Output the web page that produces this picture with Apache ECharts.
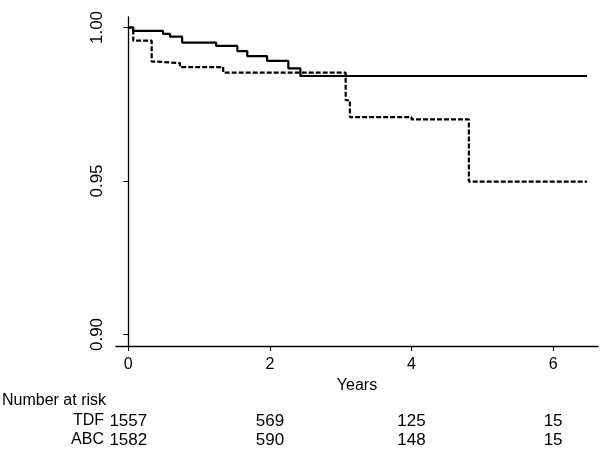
<!DOCTYPE html>
<html>
<head>
<meta charset="utf-8">
<script src="https://cdn.jsdelivr.net/npm/echarts@6/dist/echarts.min.js"></script>
<style>html,body{margin:0;padding:0;background:#fff;}#c{width:600px;height:468px;}</style>
</head>
<body>
<div id="c"></div>
<script>
// Kaplan-Meier steps: [years, survival]
var tdfTimes = [0, 0.07, 0.49, 0.59, 0.76, 1.24, 1.54, 1.68, 1.96, 2.26, 2.43, 6.48];
var tdfSurv  = [1.0, 0.9989, 0.9979, 0.9970, 0.9951, 0.9940, 0.9923, 0.9907, 0.9891, 0.9867, 0.9842, 0.9842];
var abcTimes = [0, 0.07, 0.33, 0.40, 0.73, 1.34, 3.07, 3.13, 4.00, 4.81, 6.48];
var abcSurv  = [1.0, 0.9957, 0.9889, 0.9884, 0.9871, 0.9853, 0.9763, 0.9708, 0.9701, 0.9498, 0.9498];
var xTicks = [0, 2, 4, 6];
var yTicks = [0.90, 0.95, 1.00];
var riskTimes = [0, 2, 4, 6];
var riskGroups = ['TDF', 'ABC'];
var riskTDF = [1557, 569, 125, 15];
var riskABC = [1582, 590, 148, 15];

function pairs(t, v) { return t.map(function (x, i) { return [x, v[i]]; }); }

var FONT = 'Liberation Sans, Arial, sans-serif';
var chart = echarts.init(document.getElementById('c'), null, { renderer: 'canvas' });
var option = {
  animation: false,
  backgroundColor: '#fff',
  grid: { left: 116, right: 2, top: 17, bottom: 122, containLabel: false },
  xAxis: {
    type: 'value', min: -0.174, max: 6.634,
    name: 'Years', nameLocation: 'middle', nameGap: 28,
    nameTextStyle: { color: '#000', fontSize: 16, fontFamily: FONT },
    axisLine: { show: true, lineStyle: { color: '#000', width: 1.3 } },
    axisTick: { show: true, length: 5, lineStyle: { color: '#000' }, customValues: xTicks },
    axisLabel: { color: '#000', fontSize: 16, fontFamily: FONT, margin: 11, customValues: xTicks },
    splitLine: { show: false }
  },
  yAxis: {
    type: 'value', min: 0.89625, max: 1.00342,
    axisLine: { show: true, lineStyle: { color: '#000', width: 1.3 } },
    axisTick: { show: true, length: 5, lineStyle: { color: '#000' }, customValues: yTicks },
    axisLabel: { color: '#000', fontSize: 17, fontFamily: FONT, rotate: 90, margin: 10,
      customValues: yTicks, formatter: function (v) { return v.toFixed(2); } },
    splitLine: { show: false }
  },
  series: [
    { name: 'TDF', type: 'line', step: 'end', data: pairs(tdfTimes, tdfSurv), symbol: 'none',
      lineStyle: { color: '#000', width: 2.2, type: 'solid' } },
    { name: 'ABC', type: 'line', step: 'end', data: pairs(abcTimes, abcSurv), symbol: 'none',
      lineStyle: { color: '#000', width: 2.2, type: [5, 2] } }
  ]
};
chart.setOption(option);

var rows = [riskTDF, riskABC];
var rowY = [421, 440];
var g = [];
g.push({ type: 'text', left: 2, top: 393, style: { text: 'Number at risk', fill: '#000', font: '16px ' + FONT } });
riskGroups.forEach(function (name, r) {
  g.push({ type: 'text', x: 104, y: rowY[r], style: { text: name, fill: '#000', font: '16px ' + FONT, textAlign: 'right', textVerticalAlign: 'middle' } });
  rows[r].forEach(function (n, i) {
    var px = chart.convertToPixel({ xAxisIndex: 0 }, riskTimes[i]);
    g.push({ type: 'text', x: px, y: rowY[r], style: { text: String(n), fill: '#000', font: '17px ' + FONT, textAlign: 'center', textVerticalAlign: 'middle' } });
  });
});
chart.setOption({ graphic: g });
</script>
</body>
</html>
